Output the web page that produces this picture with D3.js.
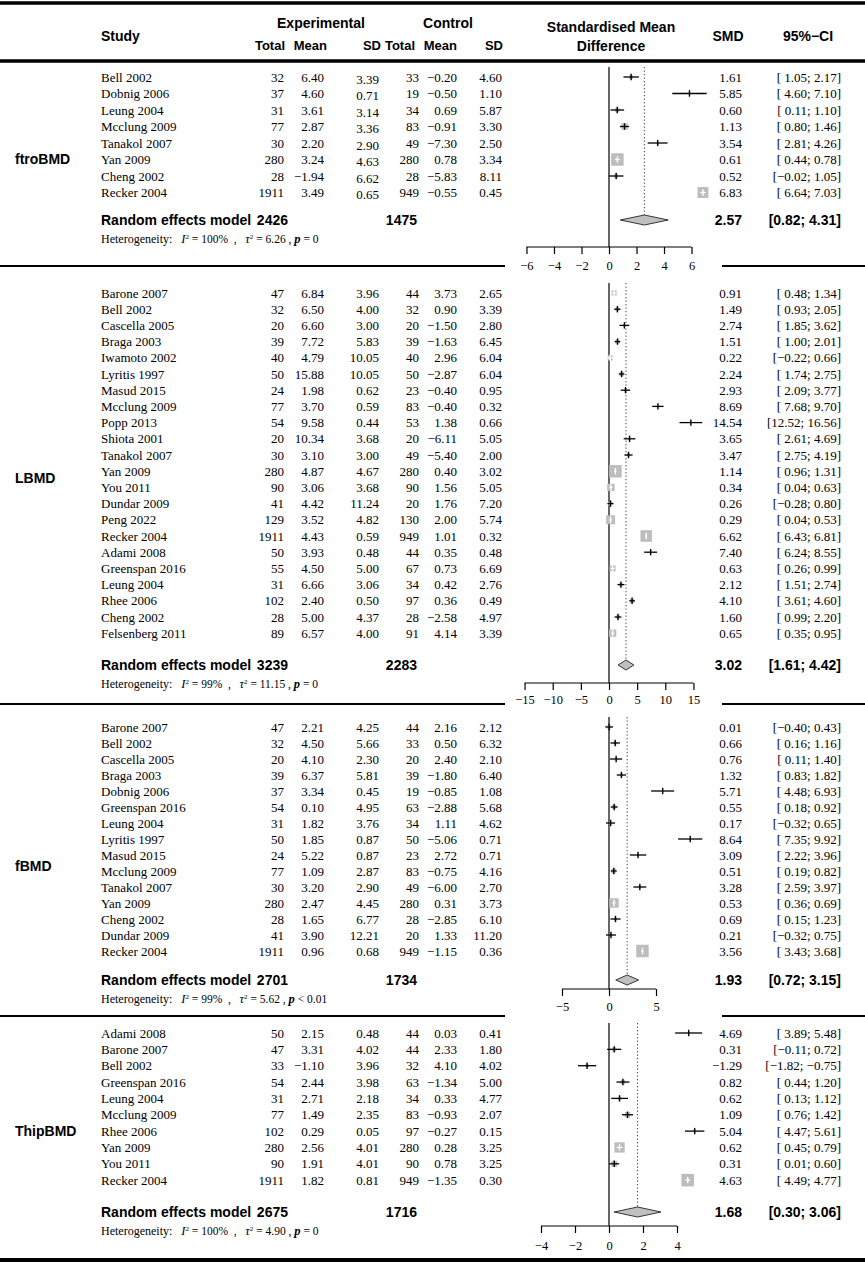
<!DOCTYPE html>
<html><head><meta charset="utf-8">
<script src="https://cdn.jsdelivr.net/npm/d3@7"></script>
<style>body{margin:0;background:#fff} text{white-space:pre}</style>
</head><body>
<svg id="c" width="865" height="1263"></svg>
<script>
// ---------------- DATA ----------------
// [study, expTotal, expMean, expSD, ctrlTotal, ctrlMean, ctrlSD, SMD, lower, upper]
const ftroBMD = [
  ["Bell 2002",32,6.40,3.39,33,-0.20,4.60,1.61,1.05,2.17],
  ["Dobnig 2006",37,4.60,0.71,19,-0.50,1.10,5.85,4.60,7.10],
  ["Leung 2004",31,3.61,3.14,34,0.69,5.87,0.60,0.11,1.10],
  ["Mcclung 2009",77,2.87,3.36,83,-0.91,3.30,1.13,0.80,1.46],
  ["Tanakol 2007",30,2.20,2.90,49,-7.30,2.50,3.54,2.81,4.26],
  ["Yan 2009",280,3.24,4.63,280,0.78,3.34,0.61,0.44,0.78],
  ["Cheng 2002",28,-1.94,6.62,28,-5.83,8.11,0.52,-0.02,1.05],
  ["Recker 2004",1911,3.49,0.65,949,-0.55,0.45,6.83,6.64,7.03]
];
const LBMD = [
  ["Barone 2007",47,6.84,3.96,44,3.73,2.65,0.91,0.48,1.34],
  ["Bell 2002",32,6.50,4.00,32,0.90,3.39,1.49,0.93,2.05],
  ["Cascella 2005",20,6.60,3.00,20,-1.50,2.80,2.74,1.85,3.62],
  ["Braga 2003",39,7.72,5.83,39,-1.63,6.45,1.51,1.00,2.01],
  ["Iwamoto 2002",40,4.79,10.05,40,2.96,6.04,0.22,-0.22,0.66],
  ["Lyritis 1997",50,15.88,10.05,50,-2.87,6.04,2.24,1.74,2.75],
  ["Masud 2015",24,1.98,0.62,23,-0.40,0.95,2.93,2.09,3.77],
  ["Mcclung 2009",77,3.70,0.59,83,-0.40,0.32,8.69,7.68,9.70],
  ["Popp 2013",54,9.58,0.44,53,1.38,0.66,14.54,12.52,16.56],
  ["Shiota 2001",20,10.34,3.68,20,-6.11,5.05,3.65,2.61,4.69],
  ["Tanakol 2007",30,3.10,3.00,49,-5.40,2.00,3.47,2.75,4.19],
  ["Yan 2009",280,4.87,4.67,280,0.40,3.02,1.14,0.96,1.31],
  ["You 2011",90,3.06,3.68,90,1.56,5.05,0.34,0.04,0.63],
  ["Dundar 2009",41,4.42,11.24,20,1.76,7.20,0.26,-0.28,0.80],
  ["Peng 2022",129,3.52,4.82,130,2.00,5.74,0.29,0.04,0.53],
  ["Recker 2004",1911,4.43,0.59,949,1.01,0.32,6.62,6.43,6.81],
  ["Adami 2008",50,3.93,0.48,44,0.35,0.48,7.40,6.24,8.55],
  ["Greenspan 2016",55,4.50,5.00,67,0.73,6.69,0.63,0.26,0.99],
  ["Leung 2004",31,6.66,3.06,34,0.42,2.76,2.12,1.51,2.74],
  ["Rhee 2006",102,2.40,0.50,97,0.36,0.49,4.10,3.61,4.60],
  ["Cheng 2002",28,5.00,4.37,28,-2.58,4.97,1.60,0.99,2.20],
  ["Felsenberg 2011",89,6.57,4.00,91,4.14,3.39,0.65,0.35,0.95]
];
const fBMD = [
  ["Barone 2007",47,2.21,4.25,44,2.16,2.12,0.01,-0.40,0.43],
  ["Bell 2002",32,4.50,5.66,33,0.50,6.32,0.66,0.16,1.16],
  ["Cascella 2005",20,4.10,2.30,20,2.40,2.10,0.76,0.11,1.40],
  ["Braga 2003",39,6.37,5.81,39,-1.80,6.40,1.32,0.83,1.82],
  ["Dobnig 2006",37,3.34,0.45,19,-0.85,1.08,5.71,4.48,6.93],
  ["Greenspan 2016",54,0.10,4.95,63,-2.88,5.68,0.55,0.18,0.92],
  ["Leung 2004",31,1.82,3.76,34,1.11,4.62,0.17,-0.32,0.65],
  ["Lyritis 1997",50,1.85,0.87,50,-5.06,0.71,8.64,7.35,9.92],
  ["Masud 2015",24,5.22,0.87,23,2.72,0.71,3.09,2.22,3.96],
  ["Mcclung 2009",77,1.09,2.87,83,-0.75,4.16,0.51,0.19,0.82],
  ["Tanakol 2007",30,3.20,2.90,49,-6.00,2.70,3.28,2.59,3.97],
  ["Yan 2009",280,2.47,4.45,280,0.31,3.73,0.53,0.36,0.69],
  ["Cheng 2002",28,1.65,6.77,28,-2.85,6.10,0.69,0.15,1.23],
  ["Dundar 2009",41,3.90,12.21,20,1.33,11.20,0.21,-0.32,0.75],
  ["Recker 2004",1911,0.96,0.68,949,-1.15,0.36,3.56,3.43,3.68]
];
const ThipBMD = [
  ["Adami 2008",50,2.15,0.48,44,0.03,0.41,4.69,3.89,5.48],
  ["Barone 2007",47,3.31,4.02,44,2.33,1.80,0.31,-0.11,0.72],
  ["Bell 2002",33,-1.10,3.96,32,4.10,4.02,-1.29,-1.82,-0.75],
  ["Greenspan 2016",54,2.44,3.98,63,-1.34,5.00,0.82,0.44,1.20],
  ["Leung 2004",31,2.71,2.18,34,0.33,4.77,0.62,0.13,1.12],
  ["Mcclung 2009",77,1.49,2.35,83,-0.93,2.07,1.09,0.76,1.42],
  ["Rhee 2006",102,0.29,0.05,97,-0.27,0.15,5.04,4.47,5.61],
  ["Yan 2009",280,2.56,4.01,280,0.28,3.25,0.62,0.45,0.79],
  ["You 2011",90,1.91,4.01,90,0.78,3.25,0.31,0.01,0.60],
  ["Recker 2004",1911,1.82,0.81,949,-1.35,0.30,4.63,4.49,4.77]
];
// random effects: [expTotal, ctrlTotal, SMD, lower, upper]
const ftroRandom = [2426,1475,2.57,0.82,4.31];
const LBMDRandom = [3239,2283,3.02,1.61,4.42];
const fBMDRandom = [2701,1734,1.93,0.72,3.15];
const ThipRandom = [2675,1716,1.68,0.30,3.06];
// heterogeneity: [I2, tau2, p]
const ftroHet = ["100%","6.26","= 0"];
const LBMDHet = ["99%","11.15","= 0"];
const fBMDHet = ["99%","5.62","< 0.01"];
const ThipHet = ["100%","4.90","= 0"];
// axis ticks
const ftroTicks = [-6,-4,-2,0,2,4,6];
const LBMDTicks = [-15,-10,-5,0,5,10,15];
const fBMDTicks = [-5,0,5];
const ThipTicks = [-4,-2,0,2,4];
const groupNames = ["ftroBMD","LBMD","fBMD","ThipBMD"];

// ---------------- LAYOUT ----------------
const svg = d3.select("#c");
const serif = "'Liberation Serif','Times New Roman',serif";
const sans = "'Liberation Sans',Arial,sans-serif";
const f2 = d3.format(".2f");
const fi = d3.format("d");
const X0 = 609, HALF = 85;

const sections = [
  {name: groupNames[0], rows: ftroBMD, re: ftroRandom, het: ftroHet, ticks: ftroTicks,
   top: 77, step: 16.5, reY: 220, hetY: 239, axisY: 247, labelY: 266, zeroTop: 67, groupY: 159, L: 6.18, sep: 266, sdDy: 2},
  {name: groupNames[1], rows: LBMD, re: LBMDRandom, het: LBMDHet, ticks: LBMDTicks,
   top: 293, step: 16.2, reY: 665, hetY: 684, axisY: 683, labelY: 700, zeroTop: 283, groupY: 478, L: 15.1, sep: 704, sdDy: 0},
  {name: groupNames[2], rows: fBMD, re: fBMDRandom, het: fBMDHet, ticks: fBMDTicks,
   top: 727, step: 16.0, reY: 980, hetY: 999, axisY: 989, labelY: 1007, zeroTop: 717, groupY: 866, L: 9.04, sep: 1016, sdDy: 0},
  {name: groupNames[3], rows: ThipBMD, re: ThipRandom, het: ThipHet, ticks: ThipTicks,
   top: 1033, step: 16.35, reY: 1212, hetY: 1231, axisY: 1226, labelY: 1246, zeroTop: 1023, groupY: 1131, L: 5.0, sep: null, sdDy: 0}
];

function txt(g, x, y, s, opt) {
  opt = opt || {};
  return g.append("text").attr("x", x).attr("y", y).attr("dy", "0.35em")
    .attr("text-anchor", opt.anchor || "start")
    .attr("font-family", opt.family || serif)
    .attr("font-size", opt.size || 13)
    .attr("font-weight", opt.weight || "normal")
    .attr("fill", "#000").text(s);
}
function hline(x1, x2, y, w) {
  svg.append("line").attr("x1", x1).attr("x2", x2).attr("y1", y).attr("y2", y)
    .attr("stroke", "#000").attr("stroke-width", w);
}
const ciText = (lo, hi) => "[" + (lo >= 0 && lo < 10 ? " " : "") + f2(lo) + "; " + f2(hi) + "]";

// ---------------- HEADER ----------------
hline(0, 865, 3, 3.5);
hline(0, 865, 61, 3.5);
const hb = {family: sans, weight: "bold", size: 14};
txt(svg, 101, 36, "Study", hb);
txt(svg, 321, 23, "Experimental", Object.assign({anchor: "middle"}, hb));
txt(svg, 448, 23, "Control", Object.assign({anchor: "middle"}, hb));
[["Total",285],["Mean",327],["SD",381],["Total",415],["Mean",457],["SD",503]].forEach(([s, x]) =>
  txt(svg, x, 45, s, {anchor: "end", family: sans, weight: "bold", size: 13}));
txt(svg, 611, 27, "Standardised Mean", Object.assign({anchor: "middle"}, hb));
txt(svg, 611, 46, "Difference", Object.assign({anchor: "middle"}, hb));
txt(svg, 728, 36, "SMD", Object.assign({anchor: "middle"}, hb));
txt(svg, 808, 36, "95%\u2212CI", Object.assign({anchor: "middle"}, hb));

// ---------------- SECTIONS ----------------
sections.forEach(sec => {
  const g = svg.append("g");
  const x = d3.scaleLinear().domain([-sec.L, sec.L]).range([X0 - HALF, X0 + HALF]);
  const yOf = i => sec.top + i * sec.step;
  const wts = sec.rows.map(r => 1 / Math.pow((r[9] - r[8]) / 3.92, 2));
  const wmax = d3.max(wts);

  // group label
  txt(g, 15, sec.groupY, sec.name, {family: sans, weight: "bold", size: 14});

  // zero line & dotted summary line
  g.append("line").attr("x1", x(0)).attr("x2", x(0)).attr("y1", sec.zeroTop).attr("y2", sec.axisY)
    .attr("stroke", "#000").attr("stroke-width", 1.2);
  g.append("line").attr("x1", x(sec.re[2])).attr("x2", x(sec.re[2]))
    .attr("y1", sec.zeroTop).attr("y2", sec.reY - 5)
    .attr("stroke", "#444").attr("stroke-width", 1).attr("stroke-dasharray", "1.3,2.2");

  // study rows
  sec.rows.forEach((r, i) => {
    const y = yOf(i);
    txt(g, 101, y, r[0]);
    txt(g, 284, y, fi(r[1]), {anchor: "end"});
    txt(g, 324, y, f2(r[2]), {anchor: "end"});
    txt(g, 379, y + sec.sdDy, f2(r[3]), {anchor: "end"});
    txt(g, 419, y, fi(r[4]), {anchor: "end"});
    txt(g, 457, y, f2(r[5]), {anchor: "end"});
    txt(g, 502, y, f2(r[6]), {anchor: "end"});
    txt(g, 742, y, f2(r[7]), {anchor: "end"});
    txt(g, 841, y, ciText(r[8], r[9]), {anchor: "end"});

    // marker
    const cx = x(r[7]);
    const side = 12.5 * Math.sqrt(wts[i] / wmax);
    g.append("rect").attr("x", cx - side / 2).attr("y", y - side / 2)
      .attr("width", side).attr("height", side).attr("fill", "#bdbdbd");
    const inside = x(r[8]) >= cx - side / 2 && x(r[9]) <= cx + side / 2;
    const col = inside ? "#fff" : "#000";
    g.append("line").attr("x1", x(r[8])).attr("x2", x(r[9])).attr("y1", y).attr("y2", y)
      .attr("stroke", col).attr("stroke-width", 1.3);
    g.append("line").attr("x1", cx).attr("x2", cx).attr("y1", y - 3.2).attr("y2", y + 3.2)
      .attr("stroke", col).attr("stroke-width", 1.4);
  });

  // random effects row
  const rb = {family: sans, weight: "bold", size: 14};
  txt(g, 101, sec.reY, "Random effects model", rb);
  txt(g, 288, sec.reY, fi(sec.re[0]), Object.assign({anchor: "end"}, rb));
  txt(g, 417, sec.reY, fi(sec.re[1]), Object.assign({anchor: "end"}, rb));
  txt(g, 742, sec.reY, f2(sec.re[2]), Object.assign({anchor: "end"}, rb));
  txt(g, 841, sec.reY, "[" + f2(sec.re[3]) + "; " + f2(sec.re[4]) + "]", Object.assign({anchor: "end"}, rb));
  const dy = sec.reY;
  g.append("polygon")
    .attr("points", [[x(sec.re[3]), dy], [x(sec.re[2]), dy - 5], [x(sec.re[4]), dy], [x(sec.re[2]), dy + 5]].join(" "))
    .attr("fill", "#c0c0c0").attr("stroke", "#222").attr("stroke-width", 0.9);

  // heterogeneity
  const ht = g.append("text").attr("x", 101).attr("y", sec.hetY).attr("dy", "0.35em")
    .attr("font-family", serif).attr("font-size", 12).attr("fill", "#000");
  ht.append("tspan").text("Heterogeneity:   ");
  ht.append("tspan").attr("font-style", "italic").attr("font-size", 12.5).text("I");
  ht.append("tspan").attr("font-size", 7).attr("dy", -4).text("2");
  ht.append("tspan").attr("dy", 4).attr("font-size", 11.5).text(" = " + sec.het[0] + "  ,   ");
  ht.append("tspan").attr("font-style", "italic").attr("font-size", 12.5).text("\u03c4");
  ht.append("tspan").attr("font-size", 7).attr("dy", -4).text("2");
  ht.append("tspan").attr("dy", 4).attr("font-size", 11.5).text(" = " + sec.het[1] + " , ");
  ht.append("tspan").attr("font-style", "italic").attr("font-weight", "bold").attr("font-size", 12.5).text("p");
  ht.append("tspan").attr("font-size", 11.5).text(" " + sec.het[2]);

  // axis
  const tickLen = 7;
  const ax = g.append("g").attr("transform", `translate(0,${sec.axisY})`)
    .call(d3.axisBottom(x).tickValues(sec.ticks).tickSize(tickLen)
      .tickPadding(sec.labelY - sec.axisY - tickLen - 4.5));
  ax.select(".domain").remove();
  ax.selectAll(".tick line").attr("stroke", "#000").attr("stroke-width", 1.2);
  ax.selectAll(".tick text").attr("font-family", serif).attr("font-size", 12.5).attr("fill", "#000");
  g.append("line").attr("x1", x(d3.min(sec.ticks))).attr("x2", x(d3.max(sec.ticks)))
    .attr("y1", sec.axisY).attr("y2", sec.axisY).attr("stroke", "#000").attr("stroke-width", 1.2);

  // separator
  if (sec.sep !== null) {
    hline(0, 505, sec.sep, 2);
    hline(722, 865, sec.sep, 2);
  }
});
hline(0, 865, 1260, 4);
</script>
</body></html>
